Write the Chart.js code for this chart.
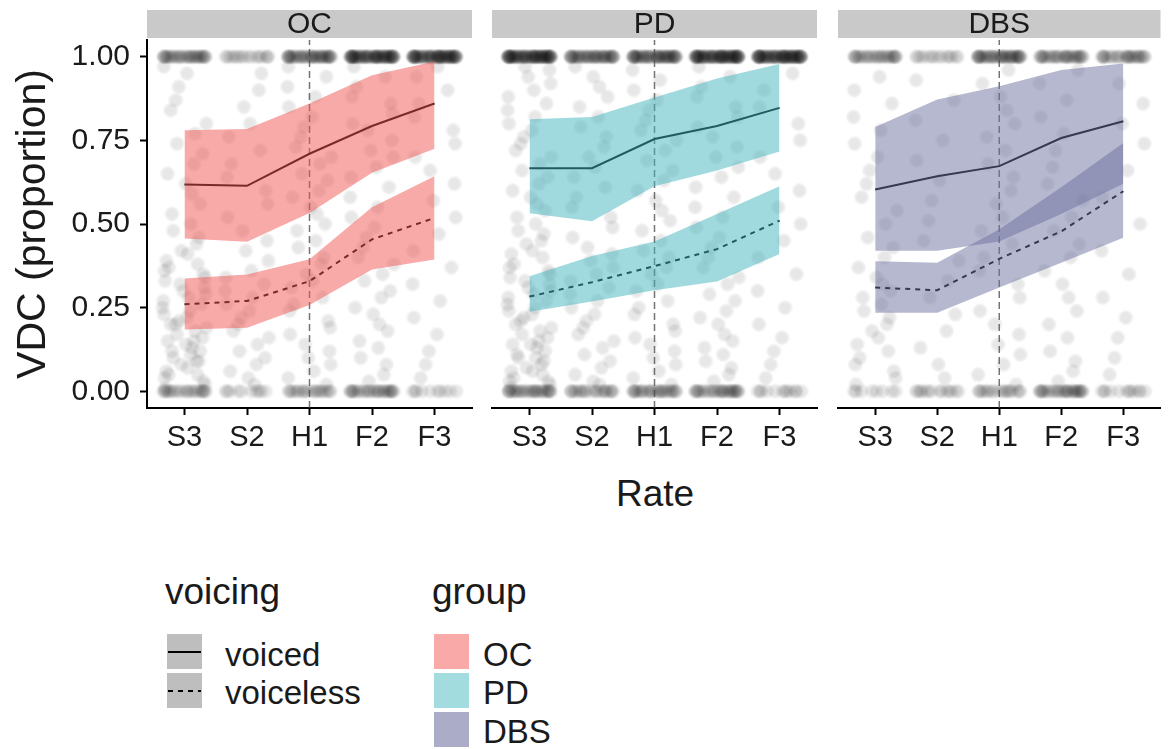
<!DOCTYPE html>
<html>
<head>
<meta charset="utf-8">
<title>VDC by rate</title>
<script src="https://cdn.jsdelivr.net/npm/chart.js@4/dist/chart.umd.min.js"></script>
<style>
  html, body { margin: 0; padding: 0; background: #fff; }
  #wrap { position: relative; width: 1168px; height: 749px; overflow: hidden;
          font-family: "Liberation Sans", Arial, Helvetica, sans-serif; color: #1a1a1a; }
  canvas { position: absolute; top: 0; }
  .t { position: absolute; white-space: nowrap; line-height: 1; }
  .key { position: absolute; width: 35px; height: 35px; }
  .key svg { display: block; }
</style>
</head>
<body>
<div id="wrap">
  <canvas id="pOC" width="480" height="470" style="left:0px"></canvas>
  <canvas id="pPD" width="345" height="470" style="left:480px"></canvas>
  <canvas id="pDBS" width="342" height="470" style="left:826px"></canvas>

  <div class="t" style="left:555px; top:475px; width:200px; text-align:center; font-size:37px;">Rate</div>

  <div class="t" style="left:165px; top:573px; font-size:37px;">voicing</div>
  <div class="key" style="left:167px; top:634px; background:#bebebe;">
    <svg width="35" height="35"><line x1="1" y1="18" x2="34" y2="18" stroke="#000" stroke-width="2"/></svg>
  </div>
  <div class="key" style="left:167px; top:673px; background:#bebebe;">
    <svg width="35" height="35"><line x1="1" y1="18" x2="34" y2="18" stroke="#000" stroke-width="2" stroke-dasharray="5 5"/></svg>
  </div>
  <div class="t" style="left:225px; top:638px; font-size:33px;">voiced</div>
  <div class="t" style="left:225px; top:676px; font-size:33px;">voiceless</div>

  <div class="t" style="left:432px; top:573px; font-size:37px;">group</div>
  <div class="key" id="kOC" style="left:434px; top:634px;"></div>
  <div class="key" id="kPD" style="left:434px; top:673px;"></div>
  <div class="key" id="kDBS" style="left:434px; top:712px;"></div>
  <div class="t" style="left:483px; top:638px; font-size:33px;">OC</div>
  <div class="t" style="left:483px; top:676px; font-size:33px;">PD</div>
  <div class="t" style="left:483px; top:715px; font-size:33px;">DBS</div>
</div>

<script>
// ---- categories and ticks ----
const rates = ['S3', 'S2', 'H1', 'F2', 'F3'];
const groups = ['OC', 'PD', 'DBS'];
const yTicks = [0, 0.25, 0.5, 0.75, 1];
const yTickLabels = ['0.00', '0.25', '0.50', '0.75', '1.00'];

// ---- model estimates (mean, lower, upper) per rate ----
const ocVoiced      = [0.618, 0.614, 0.710, 0.793, 0.860];
const ocVoicedLo    = [0.457, 0.447, 0.533, 0.653, 0.725];
const ocVoicedHi    = [0.780, 0.784, 0.860, 0.945, 0.986];
const ocVoiceless   = [0.260, 0.270, 0.329, 0.454, 0.518];
const ocVoicelessLo = [0.185, 0.190, 0.258, 0.364, 0.394];
const ocVoicelessHi = [0.337, 0.349, 0.395, 0.550, 0.643];

const pdVoiced      = [0.667, 0.667, 0.754, 0.793, 0.847];
const pdVoicedLo    = [0.532, 0.508, 0.613, 0.660, 0.717];
const pdVoicedHi    = [0.813, 0.820, 0.878, 0.935, 0.978];
const pdVoiceless   = [0.283, 0.326, 0.374, 0.425, 0.510];
const pdVoicelessLo = [0.238, 0.268, 0.302, 0.328, 0.410];
const pdVoicelessHi = [0.344, 0.404, 0.448, 0.530, 0.613];

const dbsVoiced      = [0.603, 0.643, 0.673, 0.757, 0.807];
const dbsVoicedLo    = [0.420, 0.420, 0.448, 0.530, 0.620];
const dbsVoicedHi    = [0.790, 0.872, 0.912, 0.960, 0.980];
const dbsVoiceless   = [0.310, 0.302, 0.396, 0.478, 0.598];
const dbsVoicelessLo = [0.235, 0.235, 0.310, 0.384, 0.459];
const dbsVoicelessHi = [0.389, 0.384, 0.484, 0.610, 0.742];

// ---- raw observations: number of trials at exactly 1 and 0, and values in between ----
const ocAtOne  = [34, 16, 42, 66, 66];
const ocAtZero = [22, 10, 20, 28, 10];
const ocMid = [
  [0.01,0.02,0.03,0.04,0.05,0.05,0.06,0.07,0.08,0.09,0.09,0.10,0.11,0.12,0.12,0.13,0.14,0.15,0.15,0.16,0.17,0.18,0.19,0.20,0.20,0.21,0.22,0.23,0.24,0.25,0.26,0.27,0.28,0.29,0.30,0.31,0.32,0.33,0.34,0.35,0.36,0.37,0.38,0.39,0.41,0.42,0.44,0.46,0.48,0.50,0.53,0.56,0.59,0.62,0.65,0.68,0.71,0.74,0.77,0.80,0.84,0.87,0.91,0.95,0.97],
  [0.02,0.04,0.06,0.08,0.10,0.12,0.14,0.16,0.18,0.20,0.22,0.24,0.26,0.28,0.30,0.32,0.34,0.36,0.39,0.42,0.45,0.48,0.52,0.56,0.60,0.64,0.68,0.72,0.76,0.80,0.85,0.90,0.95],
  [0.02,0.04,0.06,0.08,0.10,0.12,0.14,0.17,0.19,0.21,0.24,0.26,0.28,0.31,0.33,0.35,0.38,0.40,0.43,0.45,0.48,0.50,0.53,0.55,0.58,0.60,0.63,0.65,0.68,0.70,0.73,0.76,0.79,0.82,0.85,0.88,0.91,0.94,0.97],
  [0.03,0.05,0.08,0.10,0.13,0.15,0.18,0.20,0.23,0.25,0.28,0.30,0.33,0.35,0.38,0.40,0.43,0.46,0.49,0.52,0.55,0.58,0.61,0.64,0.67,0.70,0.72,0.75,0.78,0.80,0.83,0.86,0.88,0.91,0.94,0.97],
  [0.04,0.08,0.12,0.17,0.22,0.27,0.32,0.37,0.42,0.47,0.52,0.57,0.62,0.66,0.70,0.74,0.78,0.82,0.86,0.90,0.94,0.97]
];

const pdAtOne  = [72, 44, 50, 72, 72];
const pdAtZero = [30, 22, 28, 30, 12];
const pdMid = [
  [0.01,0.02,0.03,0.03,0.04,0.05,0.06,0.06,0.07,0.08,0.09,0.10,0.10,0.11,0.12,0.13,0.14,0.14,0.15,0.16,0.17,0.18,0.19,0.20,0.21,0.22,0.23,0.24,0.25,0.26,0.27,0.28,0.29,0.30,0.31,0.32,0.33,0.34,0.35,0.36,0.37,0.38,0.40,0.41,0.42,0.44,0.45,0.47,0.48,0.50,0.52,0.54,0.56,0.58,0.60,0.62,0.64,0.66,0.68,0.70,0.72,0.74,0.76,0.78,0.80,0.82,0.84,0.86,0.88,0.90,0.92,0.94,0.96,0.97],
  [0.02,0.03,0.05,0.07,0.09,0.11,0.13,0.15,0.17,0.19,0.21,0.23,0.25,0.27,0.29,0.31,0.33,0.35,0.37,0.39,0.41,0.43,0.46,0.49,0.52,0.55,0.58,0.61,0.64,0.67,0.70,0.73,0.76,0.79,0.82,0.85,0.88,0.91,0.94,0.97],
  [0.02,0.04,0.06,0.08,0.10,0.12,0.14,0.16,0.18,0.20,0.23,0.25,0.27,0.30,0.32,0.35,0.37,0.40,0.42,0.45,0.48,0.51,0.54,0.57,0.60,0.63,0.66,0.69,0.72,0.75,0.78,0.81,0.84,0.87,0.90,0.93,0.96],
  [0.03,0.05,0.07,0.09,0.11,0.13,0.15,0.17,0.20,0.22,0.24,0.27,0.29,0.32,0.34,0.37,0.40,0.43,0.46,0.49,0.52,0.55,0.58,0.61,0.64,0.67,0.70,0.73,0.76,0.79,0.82,0.85,0.88,0.91,0.94,0.97],
  [0.04,0.08,0.12,0.16,0.20,0.25,0.30,0.35,0.40,0.45,0.50,0.55,0.60,0.65,0.70,0.75,0.80,0.85,0.90,0.95]
];

const dbsAtOne  = [28, 14, 42, 32, 28];
const dbsAtZero = [8, 14, 18, 30, 12];
const dbsMid = [
  [0.02,0.04,0.06,0.08,0.10,0.12,0.14,0.16,0.18,0.20,0.22,0.24,0.26,0.28,0.30,0.32,0.34,0.37,0.40,0.43,0.46,0.50,0.54,0.58,0.62,0.66,0.70,0.74,0.78,0.82,0.86,0.90,0.94],
  [0.04,0.08,0.13,0.18,0.23,0.28,0.33,0.39,0.45,0.51,0.57,0.63,0.69,0.75,0.81,0.87,0.93],
  [0.02,0.05,0.08,0.11,0.14,0.17,0.20,0.24,0.28,0.32,0.36,0.40,0.44,0.48,0.52,0.56,0.60,0.64,0.68,0.72,0.76,0.80,0.84,0.88,0.92,0.96],
  [0.03,0.06,0.09,0.12,0.16,0.20,0.24,0.28,0.32,0.36,0.40,0.44,0.48,0.52,0.57,0.62,0.67,0.72,0.77,0.82,0.87,0.92,0.96],
  [0.05,0.10,0.16,0.22,0.28,0.35,0.42,0.50,0.58,0.66,0.74,0.80,0.86,0.92]
];

// horizontal jitter offsets (in category units) applied to observations
const jitterX = [-0.31, 0.12, 0.27, -0.05, -0.22, 0.33, 0.02, -0.34, 0.19, -0.14, 0.30, -0.27, 0.07, 0.23, -0.09,
                 -0.32, 0.15, 0.34, -0.18, 0.04, -0.25, 0.29, -0.02, 0.10, -0.33, 0.21, -0.12, 0.32, -0.20, 0.09,
                 -0.29, 0.17, -0.07, 0.25, -0.35, 0.05, 0.35];

// ---- styling ----
const FONT = '"Liberation Sans", Arial, Helvetica, sans-serif';
const groupFill = {
  OC:  'rgba(240, 85, 80, 0.5)',
  PD:  'rgba(68, 182, 190, 0.5)',
  DBS: 'rgba(110, 114, 160, 0.5)'
};
const keyFill = { OC: '#f9a9a7', PD: '#a2dcdf', DBS: '#abadc8' };
Chart.defaults.font.family = FONT;
Chart.defaults.color = '#1a1a1a';

groups.forEach(g => { document.getElementById('k' + g).style.background = keyFill[g]; });

// facet strip drawn above each panel
const stripPlugin = {
  id: 'strip',
  afterDraw(chart, args, opts) {
    const { ctx, chartArea } = chart;
    ctx.save();
    ctx.fillStyle = '#c9c9c9';
    ctx.fillRect(chartArea.left, 10, chartArea.right - chartArea.left, 28);
    ctx.fillStyle = '#1a1a1a';
    ctx.font = '30px ' + FONT;
    ctx.textAlign = 'center';
    ctx.textBaseline = 'middle';
    ctx.fillText(opts.label, (chartArea.left + chartArea.right) / 2, 25);
    ctx.restore();
  }
};

// soft edges for the translucent observation dots
const softPointsPlugin = {
  id: 'softPoints',
  beforeDatasetDraw(chart, args) {
    if (args.index === 0) { chart.ctx.save(); chart.ctx.filter = 'blur(1px)'; }
  },
  afterDatasetDraw(chart, args) {
    if (args.index === 0) { chart.ctx.restore(); }
  }
};

function toXY(vals) { return vals.map((v, i) => ({ x: i, y: v })); }

function observations(mid, atOne, atZero) {
  const J = jitterX.length;
  const pts = [];
  rates.forEach((r, c) => {
    for (let i = 0; i < atOne[c]; i++)  pts.push({ x: c + jitterX[(i + 3 * c) % J], y: 1 });
    for (let i = 0; i < atZero[c]; i++) pts.push({ x: c + jitterX[(i + 7 * c) % J], y: 0 });
    mid[c].forEach((v, i) => pts.push({ x: c + jitterX[(i * 5 + c) % J], y: v }));
  });
  return pts;
}

function makePanel(id, group, est, obs, showY, pad) {
  const fill = groupFill[group];
  const datasets = [
    { // 0: jittered observations
      data: observations(obs.mid, obs.atOne, obs.atZero), showLine: false, order: 10,
      pointRadius: 6.5, pointHoverRadius: 6.5, pointBorderWidth: 1,
      pointBackgroundColor: 'rgba(0,0,0,0.095)', pointBorderColor: 'rgba(0,0,0,0.05)'
    },
    { // 1: reference line at habitual rate
      data: [{ x: 2, y: -0.05 }, { x: 2, y: 1.05 }], order: 9, pointRadius: 0,
      borderColor: 'rgba(70,70,70,0.75)', borderWidth: 1.5, borderDash: [7, 4]
    },
    { // 2: voiced mean
      data: toXY(est.voiced), order: 8, pointRadius: 0, borderColor: '#000', borderWidth: 2
    },
    { // 3: voiceless mean
      data: toXY(est.voiceless), order: 8, pointRadius: 0, borderColor: '#000', borderWidth: 2, borderDash: [5, 5]
    },
    { // 4: voiced lower bound
      data: toXY(est.voicedLo), order: 5, pointRadius: 0, borderWidth: 0, borderColor: 'rgba(0,0,0,0)', fill: false
    },
    { // 5: voiced upper bound, ribbon down to 4
      data: toXY(est.voicedHi), order: 4, pointRadius: 0, borderWidth: 0, borderColor: 'rgba(0,0,0,0)',
      backgroundColor: fill, fill: { target: 4 }
    },
    { // 6: voiceless lower bound
      data: toXY(est.voicelessLo), order: 3, pointRadius: 0, borderWidth: 0, borderColor: 'rgba(0,0,0,0)', fill: false
    },
    { // 7: voiceless upper bound, ribbon down to 6
      data: toXY(est.voicelessHi), order: 2, pointRadius: 0, borderWidth: 0, borderColor: 'rgba(0,0,0,0)',
      backgroundColor: fill, fill: { target: 6 }
    }
  ];

  new Chart(document.getElementById(id), {
    type: 'line',
    data: { datasets },
    plugins: [stripPlugin, softPointsPlugin],
    options: {
      responsive: false,
      animation: false,
      events: [],
      layout: { padding: { left: pad.left, right: pad.right, top: 40, bottom: 0 } },
      elements: { line: { tension: 0 } },
      plugins: {
        legend: { display: false },
        tooltip: { enabled: false },
        filler: { propagate: false, drawTime: 'beforeDatasetDraw' },
        strip: { label: group }
      },
      scales: {
        x: {
          type: 'linear', min: -0.6, max: 4.6,
          afterBuildTicks: s => { s.ticks = rates.map((r, i) => ({ value: i })); },
          afterFit: s => { s.height = 62; },
          ticks: { callback: (v, i) => rates[i], autoSkip: false, maxRotation: 0, minRotation: 0,
                   padding: 6, color: '#1a1a1a', font: { size: 29 } },
          grid: { display: true, drawOnChartArea: false, drawTicks: true, tickLength: 7,
                  tickWidth: 2, tickColor: '#000' },
          border: { display: true, color: '#000', width: 2 }
        },
        y: {
          type: 'linear', min: -0.05, max: 1.05, display: showY,
          afterBuildTicks: s => { s.ticks = yTicks.map(v => ({ value: v })); },
          afterFit: s => { s.width = showY ? 147 : 0; },
          ticks: { callback: (v, i) => yTickLabels[i], padding: 10, color: '#1a1a1a', font: { size: 30 } },
          grid: { display: true, drawOnChartArea: false, drawTicks: true, tickLength: 7,
                  tickWidth: 2, tickColor: '#000' },
          border: { display: true, color: '#000', width: 2 },
          title: { display: true, text: 'VDC (proportion)', color: '#1a1a1a',
                   font: { size: 41, lineHeight: 1 }, padding: { top: 13, bottom: 0 } }
        }
      }
    }
  });
}

makePanel('pOC', 'OC',
  { voiced: ocVoiced, voicedLo: ocVoicedLo, voicedHi: ocVoicedHi,
    voiceless: ocVoiceless, voicelessLo: ocVoicelessLo, voicelessHi: ocVoicelessHi },
  { mid: ocMid, atOne: ocAtOne, atZero: ocAtZero }, true, { left: 0, right: 8 });

makePanel('pPD', 'PD',
  { voiced: pdVoiced, voicedLo: pdVoicedLo, voicedHi: pdVoicedHi,
    voiceless: pdVoiceless, voicelessLo: pdVoicelessLo, voicelessHi: pdVoicelessHi },
  { mid: pdMid, atOne: pdAtOne, atZero: pdAtZero }, false, { left: 12, right: 8 });

makePanel('pDBS', 'DBS',
  { voiced: dbsVoiced, voicedLo: dbsVoicedLo, voicedHi: dbsVoicedHi,
    voiceless: dbsVoiceless, voicelessLo: dbsVoicelessLo, voicelessHi: dbsVoicelessHi },
  { mid: dbsMid, atOne: dbsAtOne, atZero: dbsAtZero }, false, { left: 12, right: 5 });
</script>
</body>
</html>
